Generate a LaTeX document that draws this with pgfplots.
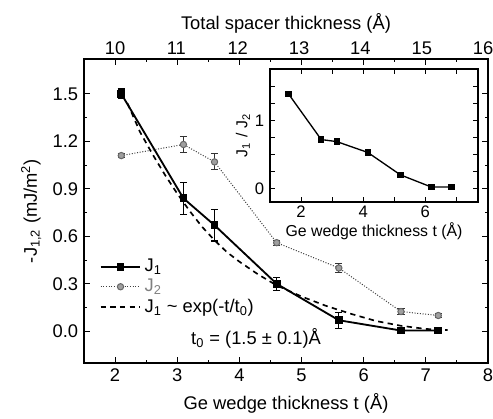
\documentclass[border=0pt]{standalone}
\usepackage{fontspec}
\setmainfont{Liberation Sans}
\usepackage{pgfplots}
\pgfplotsset{compat=1.18}

% measured couplings: t, value, error
\pgfplotstableread{
t    J    e
2.1  1.50 0.03
3.1  0.84 0.10
3.6  0.67 0.10
4.6  0.30 0.04
5.6  0.07 0.05
6.6  0.005 0.012
7.2  0.005 0.012
}\Jone
\pgfplotstableread{
t    J    e
2.1  1.11  0.015
3.1  1.18  0.05
3.6  1.07  0.05
4.6  0.56  0.015
5.6  0.40  0.03
6.6  0.125 0.02
7.2  0.10  0.012
}\Jtwo

\pgfplotsset{
  common/.style={
    scale only axis,
    tick align=inside,
    axis line style={line width=0.8pt},
    every tick/.style={black, line width=0.6pt},
    /pgf/number format/assume math mode=true,
  },
}

\begin{document}
\begin{tikzpicture}
% top scale: total spacer thickness
\begin{axis}[common,
  at={(0pt,0pt)}, anchor=south west,
  width=242.4pt, height=182.4pt,
  xmin=9.494, xmax=16.08, ymin=0, ymax=1,
  axis x line*=top, axis y line=none, x axis line style={-},
  xtick={10,...,16}, major tick length=0pt, minor tick length=0pt,
  tick label style={font=\fontsize{11}{13}\selectfont},
  xticklabel style={yshift=-1pt},
  xlabel={Total spacer thickness (Å)},
  xlabel style={font=\fontsize{11}{13}\selectfont, yshift=-2pt},
]
\addplot[draw=none] coordinates {(10,0.5)};
\end{axis}

% main panel
\begin{axis}[common,
  name=main, at={(0pt,0pt)}, anchor=south west,
  width=242.4pt, height=182.4pt,
  xmin=1.5, xmax=8, ymin=-0.2, ymax=1.72,
  xtick={2,...,8}, minor x tick num=1,
  ytick={0,0.3,0.6,0.9,1.2,1.5}, minor y tick num=1,
  xtick pos=both, ytick pos=both,
  major tick length=3.5pt, minor tick length=2pt,
  yticklabel style={/pgf/number format/.cd, fixed, fixed zerofill, precision=1},
  tick label style={font=\fontsize{11}{13}\selectfont},
  xlabel={Ge wedge thickness t (Å)},
  ylabel={-J\textsubscript{1,2} (mJ/m\textsuperscript{2})},
  label style={font=\fontsize{11}{13}\selectfont},
  legend style={at={(axis cs:1.72,0.49)}, anchor=north west, draw=none, fill=none,
    font=\fontsize{11}{13}\selectfont, row sep=-1pt, inner sep=1pt},
  legend cell align=left,
  legend image code/.code={
    \draw[mark repeat=2, mark phase=2, #1] plot coordinates {(0cm,0cm) (0.42cm,0cm) (0.84cm,0cm)};
  },
]
\addplot[black, line width=1.1pt, mark=square*, mark size=1.8pt,
  error bars/.cd, y dir=both, y explicit,
  error bar style={line width=0.7pt},
  error mark options={rotate=90, mark size=2.2pt, line width=0.7pt}]
  table[x=t, y=J, y error=e] {\Jone};
\addlegendentry{J\textsubscript{1}}
\addplot[black!75, line width=0.6pt, densely dotted,
  mark=*, mark size=1.9pt, mark options={solid, fill=gray!75, draw=black!60},
  error bars/.cd, y dir=both, y explicit,
  error bar style={black!80, solid, line width=0.6pt},
  error mark options={rotate=90, mark size=2.2pt, black!80, line width=0.6pt}]
  table[x=t, y=J, y error=e] {\Jtwo};
\addlegendentry{\textcolor{gray}{J\textsubscript{2}}}
% exponential fit with t0 = 1.5 A
\addplot[black, line width=1pt, dash pattern=on 3.2pt off 2.6pt] coordinates {
  (2.2,1.44) (2.4,1.26) (2.6,1.12) (2.8,0.99) (3.0,0.87) (3.2,0.76)
  (3.4,0.66) (3.6,0.575) (3.8,0.50) (4.0,0.44) (4.3,0.36) (4.6,0.29)
  (5.0,0.22) (5.4,0.16) (5.8,0.11) (6.2,0.065) (6.6,0.035) (7.0,0.015) (7.35,0.008)
};
\addlegendentry{J\textsubscript{1} \textasciitilde{} exp(-t/t\textsubscript{0})}
\node[anchor=west, font=\fontsize{11}{13}\selectfont, inner sep=0pt]
  at (axis cs:3.22,-0.045) {t\textsubscript{0} = (1.5 ± 0.1)Å};
\end{axis}

% inset: ratio J1/J2
\begin{axis}[common,
  at={(111.6pt,96.6pt)}, anchor=south west,
  width=124.8pt, height=79.8pt,
  xmin=1, xmax=7.7, ymin=-0.2, ymax=1.76,
  xtick={2,4,6}, minor xtick={1,3,5,7},
  ytick={0,1}, minor ytick={0.25,0.5,0.75,1.25,1.5},
  xtick pos=both, ytick pos=both,
  major tick length=3pt, minor tick length=3pt,
  axis background/.style={fill=white},
  tick label style={font=\fontsize{10}{12}\selectfont},
  xticklabel style={yshift=1pt},
  xlabel={Ge wedge thickness t (Å)},
  ylabel={J\textsubscript{1} / J\textsubscript{2}},
  label style={font=\fontsize{9.5}{11}\selectfont},
  xlabel style={yshift=4pt},
  ylabel style={yshift=-4pt},
]
\addplot[black, line width=0.8pt, mark=square*, mark size=1.5pt] coordinates {
  (1.6,1.39) (2.65,0.72) (3.15,0.69) (4.15,0.53) (5.2,0.20) (6.2,0.02) (6.85,0.02)
};
\end{axis}

\pgfresetboundingbox
\path[use as bounding box] (-50.4pt,-33pt) rectangle (245.4pt,217.8pt);
\end{tikzpicture}
\end{document}
